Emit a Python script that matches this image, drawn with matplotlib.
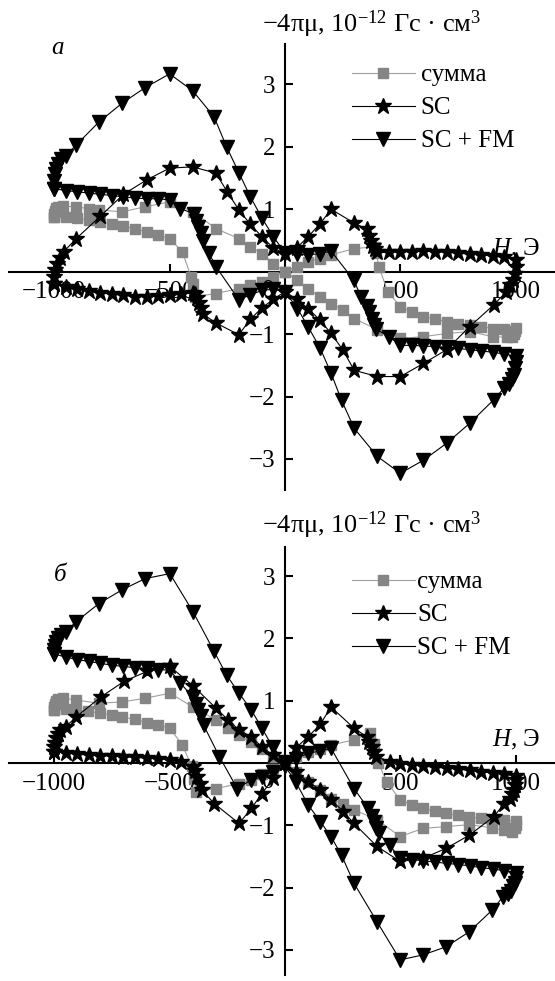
import matplotlib
matplotlib.use('Agg')
import matplotlib.pyplot as plt
from matplotlib.lines import Line2D

plt.rcParams['font.family'] = ['Liberation Serif', 'DejaVu Serif']
plt.rcParams['mathtext.fontset'] = 'custom'
plt.rcParams['mathtext.rm'] = 'Liberation Serif'
plt.rcParams['mathtext.it'] = 'Liberation Serif:italic'
plt.rcParams['mathtext.default'] = 'regular'

# ---- panel a ----
a_sum_h = [-1000, -1000, -998, -994, -985, -960, -905, -850, -806, -706, -606, -499, -399, -299, -199, -150, -100, -50, 0,
           50, 100, 150, 200, 250, 300, 400, 500, 600, 700, 800, 900, 960, 985, 994, 998, 1000,
           950, 900, 850, 800, 750, 700, 650, 600, 550, 500, 445, 407, 395, 391, 300, 200, 150, 100, 50, 0,
           -50, -100, -150, -200, -300, -391, -399, -407, -445, -500, -550, -600, -650, -700, -750, -800, -850, -900, -950, -1000]
a_sum_m = [0.88, 0.93, 0.98, 1.02, 1.04, 1.05, 1.04, 1.01, 0.99, 0.96, 1.04, 1.12, 0.96, 0.69, 0.53, 0.40, 0.29, 0.13, 0.0,
           -0.13, -0.27, -0.40, -0.51, -0.61, -0.75, -0.93, -1.07, -1.04, -0.99, -0.96, -1.04, -1.05, -1.04, -1.0, -0.95, -0.90,
           -0.92, -0.91, -0.88, -0.85, -0.83, -0.80, -0.76, -0.72, -0.65, -0.56, -0.32, 0.08, 0.30, 0.40, 0.37, 0.27, 0.21, 0.16, 0.08, 0.0,
           -0.08, -0.16, -0.21, -0.27, -0.35, -0.40, -0.19, -0.08, 0.32, 0.53, 0.59, 0.64, 0.69, 0.73, 0.77, 0.80, 0.83, 0.86, 0.87, 0.88]

a_sc_h = [-1000, -1000, -995, -988, -975, -959, -905, -800, -700, -600, -500, -400, -300, -250, -200, -150, -100, -50, 0,
          50, 100, 150, 200, 300, 355, 365, 372, 380, 388, 400, 450, 500, 550, 600, 650, 700, 750, 800, 850, 900, 950, 1000,
          1000, 995, 988, 975, 959, 905, 800, 700, 600, 500, 400, 300, 250, 200, 150, 100, 50, 0,
          -50, -100, -150, -200, -300, -355, -365, -372, -380, -388, -400, -450, -500, -550, -600, -650, -700, -750, -800,
          -850, -900, -950, -1000]
a_sc_m = [-0.20, -0.08, 0.03, 0.13, 0.22, 0.32, 0.53, 0.89, 1.24, 1.47, 1.66, 1.68, 1.58, 1.28, 0.99, 0.76, 0.56, 0.38, 0.29,
          0.38, 0.56, 0.76, 1.0, 0.78, 0.68, 0.58, 0.50, 0.42, 0.36, 0.31, 0.31, 0.32, 0.32, 0.33, 0.32, 0.31, 0.30, 0.28, 0.27, 0.25, 0.23, 0.19,
          0.08, -0.03, -0.13, -0.22, -0.32, -0.53, -0.88, -1.25, -1.47, -1.68, -1.68, -1.58, -1.25, -0.99, -0.77, -0.59, -0.44, -0.32,
          -0.44, -0.58, -0.76, -1.01, -0.82, -0.68, -0.58, -0.50, -0.42, -0.36, -0.34, -0.36, -0.38, -0.39, -0.40, -0.40, -0.38, -0.36, -0.34,
          -0.31, -0.28, -0.25, -0.20]

a_fm_h = [-1000, -1000, -998, -993, -985, -970, -950, -905, -806, -706, -606, -500, -400, -307, -253, -199, -150, -100, -50, 0,
          50, 100, 150, 200, 297, 330, 355, 365, 375, 385, 395, 450, 500, 550, 600, 650, 700, 750, 800, 850, 900, 950, 1000,
          1000, 998, 993, 985, 970, 950, 905, 800, 700, 600, 500, 400, 300, 245, 200, 153, 100, 54, 0,
          -50, -100, -150, -200, -297, -330, -355, -365, -375, -385, -395, -453, -500, -550, -600, -650, -700, -750, -800,
          -850, -900, -950, -1000]
a_fm_m = [1.33, 1.45, 1.56, 1.65, 1.72, 1.80, 1.86, 2.03, 2.40, 2.70, 2.95, 3.17, 2.90, 2.48, 2.0, 1.58, 1.20, 0.86, 0.56, 0.30,
          0.28, 0.27, 0.29, 0.33, -0.13, -0.40, -0.55, -0.65, -0.75, -0.85, -0.92, -1.04, -1.18, -1.18, -1.19, -1.20, -1.21, -1.23, -1.25, -1.27, -1.29, -1.32, -1.35,
          -1.45, -1.55, -1.65, -1.72, -1.80, -1.86, -2.05, -2.43, -2.75, -3.02, -3.23, -2.96, -2.51, -2.06, -1.63, -1.23, -0.88, -0.59, -0.32,
          -0.28, -0.30, -0.37, -0.45, 0.07, 0.30, 0.50, 0.62, 0.72, 0.82, 0.93, 1.01, 1.15, 1.17, 1.17, 1.18, 1.20, 1.22, 1.24,
          1.26, 1.28, 1.30, 1.33]

# ---- panel b ----
b_sum_h = [-1000, -1000, -998, -994, -985, -960, -905, -806, -706, -606, -499, -399, -299, -246, -199, -146, -100, -50, 0,
           46, 100, 150, 199, 250, 299, 399, 499, 598, 698, 798, 898, 950, 985, 995, 1000, 1000,
           950, 898, 850, 798, 750, 698, 650, 598, 550, 499, 440, 405, 385, 368, 299, 199, 150, 100, 46, 0,
           -54, -100, -146, -199, -299, -384, -395, -405, -445, -499, -550, -600, -650, -706, -750, -800, -852, -905, -950, -1000]
b_sum_m = [0.85, 0.90, 0.95, 1.0, 1.03, 1.04, 1.01, 0.96, 0.98, 1.04, 1.12, 0.90, 0.69, 0.56, 0.45, 0.33, 0.22, 0.10, 0.0,
           -0.14, -0.30, -0.43, -0.57, -0.66, -0.75, -0.91, -1.18, -1.05, -1.02, -0.99, -1.04, -1.08, -1.10, -1.05, -1.0, -0.93,
           -0.91, -0.91, -0.89, -0.86, -0.84, -0.81, -0.77, -0.73, -0.67, -0.59, -0.30, 0.0, 0.30, 0.48, 0.37, 0.29, 0.22, 0.17, 0.10, 0.0,
           -0.09, -0.17, -0.27, -0.33, -0.41, -0.46, -0.25, -0.05, 0.29, 0.56, 0.61, 0.65, 0.70, 0.74, 0.77, 0.80, 0.83, 0.85, 0.86, 0.85]

b_sc_h = [-1000, -1000, -998, -993, -985, -975, -951, -905, -798, -698, -598, -499, -399, -299, -246, -199, -146, -100, -54, 0,
          46, 100, 153, 199, 299, 355, 365, 375, 385, 395, 453, 500, 550, 600, 650, 700, 750, 800, 850, 900, 950, 1000,
          1000, 997, 992, 985, 975, 950, 905, 798, 698, 598, 499, 399, 299, 253, 199, 153, 100, 46, 0,
          -50, -100, -146, -199, -307, -361, -370, -380, -390, -398, -450, -500, -550, -600, -650, -700, -750, -800,
          -850, -900, -950, -1000]
b_sc_m = [0.18, 0.25, 0.32, 0.40, 0.47, 0.53, 0.58, 0.74, 1.06, 1.31, 1.47, 1.55, 1.24, 0.88, 0.69, 0.53, 0.42, 0.26, 0.13, 0.0,
          0.24, 0.42, 0.62, 0.90, 0.56, 0.42, 0.33, 0.25, 0.17, 0.10, 0.02, -0.01, -0.03, -0.05, -0.07, -0.08, -0.10, -0.12, -0.14, -0.16, -0.18, -0.21,
          -0.28, -0.36, -0.43, -0.50, -0.57, -0.65, -0.86, -1.16, -1.37, -1.53, -1.58, -1.34, -0.97, -0.78, -0.59, -0.43, -0.30, -0.14, 0.0,
          -0.24, -0.49, -0.73, -0.97, -0.65, -0.43, -0.33, -0.22, -0.13, -0.06, 0.02, 0.05, 0.07, 0.08, 0.09, 0.10, 0.11, 0.12,
          0.13, 0.14, 0.16, 0.18]

b_fm_h = [-1000, -1000, -998, -993, -985, -970, -951, -905, -806, -706, -606, -499, -399, -307, -253, -199, -146, -100, -54, 0,
          46, 100, 153, 199, 299, 361, 375, 385, 395, 407, 453, 499, 550, 600, 650, 700, 750, 800, 850, 900, 950, 1000,
          1000, 997, 990, 980, 965, 944, 898, 798, 698, 598, 499, 399, 299, 245, 199, 153, 100, 46, 0,
          -54, -100, -146, -207, -284, -353, -365, -375, -385, -399, -453, -499, -550, -600, -650, -700, -750, -800,
          -850, -900, -950, -1000]
b_fm_m = [1.75, 1.82, 1.88, 1.95, 2.01, 2.06, 2.10, 2.27, 2.56, 2.78, 2.96, 3.04, 2.43, 1.79, 1.41, 1.12, 0.85, 0.56, 0.26, 0.02,
          0.06, 0.16, 0.19, 0.24, -0.41, -0.73, -0.85, -0.95, -1.05, -1.13, -1.32, -1.53, -1.55, -1.57, -1.59, -1.61, -1.63, -1.65, -1.68, -1.70, -1.73, -1.77,
          -1.85, -1.92, -1.98, -2.05, -2.10, -2.15, -2.36, -2.71, -2.95, -3.08, -3.16, -2.55, -1.93, -1.48, -1.18, -0.94, -0.67, -0.30, -0.05,
          -0.14, -0.22, -0.27, -0.41, 0.10, 0.61, 0.75, 0.85, 0.95, 1.06, 1.28, 1.49, 1.50, 1.52, 1.53, 1.55, 1.57, 1.60,
          1.63, 1.66, 1.70, 1.75]

x_ticks = [-1000, -500, 500, 1000]
x_labels = ['−1000', '−500', '500', '1000']
y_ticks = [-3, -2, -1, 1, 2, 3]
y_labels = ['−3', '−2', '−1', '1', '2', '3']

GRAY = '#858585'
LGRAY = '#a0a0a0'
FS = 18
LW = 0.8

fig = plt.figure(figsize=(5.55, 9.81), dpi=100)


def panel(rect, ylim, ybounds, data, letter, letter_xy, title_y, leg_center_y, leg_pad):
    ax = fig.add_axes(rect)
    (sh, sm), (ch, cm), (fh, fm) = data
    ax.plot(sh, sm, color=LGRAY, lw=LW, marker='s', ms=7.5, mfc=GRAY, mec=GRAY, zorder=3)
    ax.plot(ch, cm, color='black', lw=LW, marker='*', ms=12, mfc='black', mec='black', zorder=4)
    ax.plot(fh, fm, color='black', lw=LW, marker='v', ms=9.5, mfc='black', mec='black', zorder=5)

    ax.set_xlim(-1235, 1170)
    ax.set_ylim(*ylim)
    for s in ['top', 'right']:
        ax.spines[s].set_visible(False)
    ax.spines['left'].set_position(('data', 0))
    ax.spines['bottom'].set_position(('data', 0))
    ax.spines['left'].set_bounds(*ybounds)
    ax.spines['bottom'].set_bounds(-1196, 1170)
    for s in ['left', 'bottom']:
        ax.spines[s].set_linewidth(1.5)
    ax.set_xticks(x_ticks, x_labels)
    ax.set_yticks(y_ticks, y_labels)
    ax.tick_params(axis='both', direction='in', length=6, width=1.5, labelsize=FS, pad=7)
    ax.patch.set_visible(False)

    ax.annotate('0', xy=(0, 0), xytext=(-12, -14), textcoords='offset points',
                ha='center', va='center', fontsize=FS)
    ax.text(1105, 0.37, '$\\mathit{H}$, Э', fontsize=FS, ha='right', va='center')

    fig.text(letter_xy[0] / 555, 1 - letter_xy[1] / 981, letter, fontsize=FS, style='italic',
             ha='center', va='center')
    fig.text(262 / 555, 1 - title_y / 981, '−4πμ, 10$^{-12}$ Гс · см$^{3}$', fontsize=19, va='baseline')

    handles = [
        Line2D([], [], color=LGRAY, lw=LW, marker='s', ms=7.5, mfc=GRAY, mec=GRAY),
        Line2D([], [], color='black', lw=LW, marker='*', ms=12, mfc='black', mec='black'),
        Line2D([], [], color='black', lw=LW, marker='v', ms=9.5, mfc='black', mec='black'),
    ]
    ax.legend(handles, ['сумма', 'SC', 'SC + FM'], loc='center left', frameon=False, fontsize=FS,
              bbox_to_anchor=(352 / 555, 1 - leg_center_y / 981), bbox_transform=fig.transFigure,
              borderpad=0, borderaxespad=0, handlelength=2.5, handletextpad=leg_pad, labelspacing=0.42)
    return ax


panel([0, 1 - 495 / 981, 1, 455 / 981], (-3.578, 3.713), (-3.5, 3.65),
      [(a_sum_h, a_sum_m), (a_sc_h, a_sc_m), (a_fm_h, a_fm_m)],
      'а', (57, 48), 32, 108, 0.25)
panel([0, 0, 1, 446 / 981], (-3.499, 3.66), (-3.40, 3.47),
      [(b_sum_h, b_sum_m), (b_sc_h, b_sc_m), (b_fm_h, b_fm_m)],
      'б', (60, 575), 533, 615, 0.1)

fig.savefig('out.png', dpi=100)
